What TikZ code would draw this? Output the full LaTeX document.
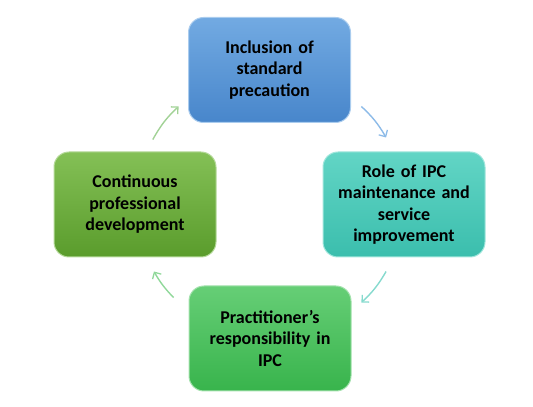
\documentclass[tikz,border=0pt]{standalone}
\usepackage{fontspec}
\setmainfont{Carlito}
\usetikzlibrary{arrows.meta,calc}
\definecolor{bluetop}{HTML}{72AAE2}
\definecolor{bluebot}{HTML}{4886CB}
\definecolor{tealtop}{HTML}{62D5C5}
\definecolor{tealbot}{HTML}{3BBEAD}
\definecolor{greentop}{HTML}{66CE76}
\definecolor{greenbot}{HTML}{38B44C}
\definecolor{oltop}{HTML}{84C056}
\definecolor{olbot}{HTML}{5A9C2C}
\definecolor{arrblue}{HTML}{8DBBE8}
\definecolor{arrteal}{HTML}{86DACE}
\definecolor{arrgreen}{HTML}{90D89A}
\definecolor{arrol}{HTML}{A2D296}
\begin{document}
\begin{tikzpicture}[x=1pt,y=1pt,
  cycbox/.style={rounded corners=15pt, minimum width=162pt, minimum height=105pt,
    text width=155pt, align=center, font=\fontsize{18}{21.5}\selectfont\bfseries,
    line width=1pt, inner sep=0pt},
  cycarrow/.style={line width=1.4pt, -{Straight Barb[length=5pt,width=10pt,line width=1.3pt]}}]
\useasboundingbox (0,0) rectangle (533,407);
\coordinate (c) at (270,202.5);
\node[cycbox, top color=bluetop, bottom color=bluebot, draw=bluetop!60!white] (top) at (269.5,337) {Inclusion of\\standard\\precaution};
\node[cycbox, top color=tealtop, bottom color=tealbot, draw=tealtop!60!white] (right) at (404,202.5) {Role of IPC\\maintenance and\\service\\improvement};
\node[cycbox, top color=greentop, bottom color=greenbot, draw=greentop!60!white] (bottom) at (270,68.5) {Practitioner’s\\responsibility in\\IPC};
\node[cycbox, top color=oltop, bottom color=olbot, draw=oltop!60!white] (left) at (135,202.5) {Continuous\\professional\\development};
\coordinate (a1s) at ($(c)+(47:134)$);
\coordinate (a1e) at ($(c)+(30:134)$);
\coordinate (a2s) at ($(c)+(-30:134)$);
\coordinate (a2e) at ($(c)+(-47:134)$);
\coordinate (a3s) at ($(c)+(-136:134)$);
\coordinate (a3e) at ($(c)+(-150:134)$);
\coordinate (a4s) at ($(c)+(151:134)$);
\coordinate (a4e) at ($(c)+(133:134)$);
\draw[cycarrow, arrblue] (a1s) to[bend left=8.5] (a1e);
\draw[cycarrow, arrteal] (a2s) to[bend left=8.5] (a2e);
\draw[cycarrow, arrgreen] (a3s) to[bend left=7] (a3e);
\draw[cycarrow, arrol] (a4s) to[bend left=9] (a4e);
\end{tikzpicture}
\end{document}
